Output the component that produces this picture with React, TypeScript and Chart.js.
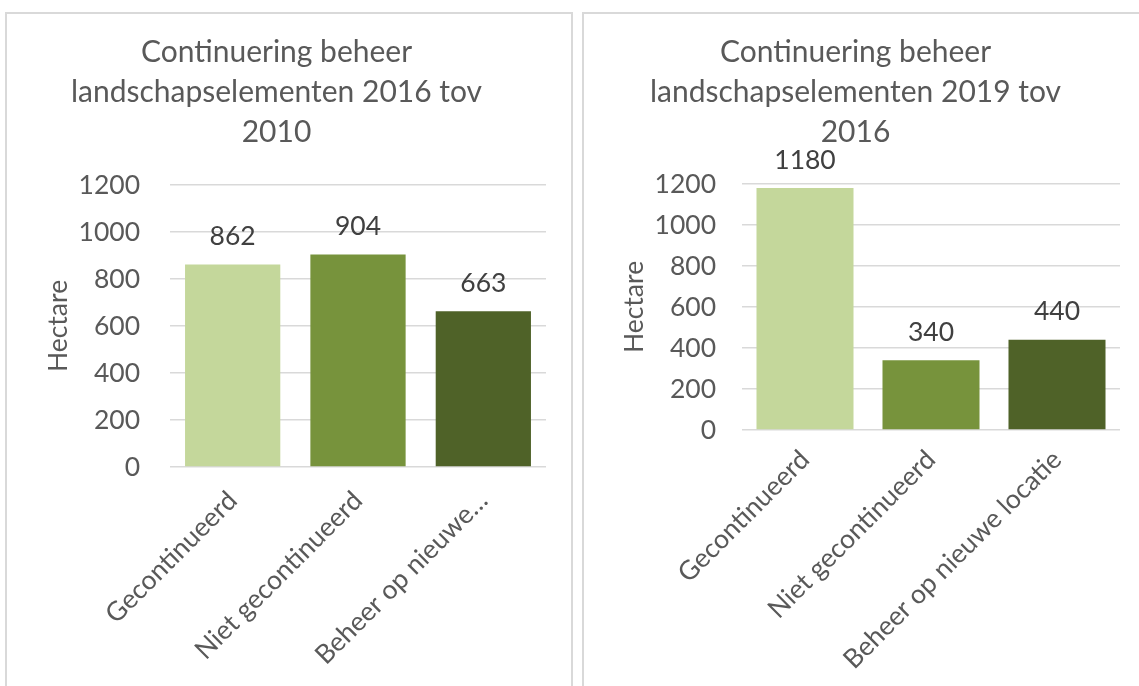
import React, { useEffect, useRef } from "react";
import { Chart, registerables } from "chart.js";

Chart.register(...registerables);

// ---- data ----
const categories2016 = ["Gecontinueerd", "Niet gecontinueerd", "Beheer op nieuwe…"];
const values2016 = [862, 904, 663];
const categories2019 = ["Gecontinueerd", "Niet gecontinueerd", "Beheer op nieuwe locatie"];
const values2019 = [1180, 340, 440];
const barColors = ["#c4d79b", "#77933c", "#4f6228"];
const yTickValues = [0, 200, 400, 600, 800, 1000, 1200];
const title2016 = ["Continuering beheer", "landschapselementen 2016 tov", "2010"];
const title2019 = ["Continuering beheer", "landschapselementen 2019 tov", "2016"];
const yAxisTitle = "Hectare";

const FONT = "Lato, 'Open Sans', sans-serif";
const TEXT = "#595959";
const GRID = "#d9d9d9";
const LABEL_SIZE = 26.5;

const valueLabels = {
  id: "valueLabels",
  afterDatasetsDraw(chart: any, _args: any, opts: any) {
    const ctx = chart.ctx;
    const meta = chart.getDatasetMeta(0);
    const data = chart.data.datasets[0].data;
    ctx.save();
    ctx.font = `${opts.size}px ${FONT}`;
    ctx.fillStyle = "#404040";
    ctx.textAlign = "center";
    ctx.textBaseline = "middle";
    meta.data.forEach((bar: any, i: number) => {
      ctx.fillText(String(data[i]), bar.x, bar.y - opts.offset);
    });
    ctx.restore();
  },
};

type Geo = {
  w: number;
  h: number;
  padLeft: number;
  padRight: number;
  yWidth: number;
  xHeight: number;
  yTickPad: number;
  xTickPad: number;
  yTitlePad: number;
  titleTop: number;
  titleBottom: number;
  barPct: number;
};

function makeConfig(labels: string[], values: number[], title: string[], g: Geo): any {
  return {
    type: "bar",
    data: {
      labels,
      datasets: [
        {
          data: values,
          backgroundColor: barColors,
          borderWidth: 0,
          categoryPercentage: 1,
          barPercentage: g.barPct,
        },
      ],
    },
    plugins: [valueLabels],
    options: {
      responsive: false,
      animation: false,
      devicePixelRatio: 1,
      layout: { padding: { left: g.padLeft, right: g.padRight, top: 0, bottom: 0 } },
      plugins: {
        legend: { display: false },
        tooltip: { enabled: false },
        title: {
          display: true,
          text: title,
          color: TEXT,
          font: { family: FONT, size: 30, weight: "normal", lineHeight: 1.3333 },
          padding: { top: g.titleTop, bottom: g.titleBottom },
        },
        valueLabels: { offset: 28, size: LABEL_SIZE },
      },
      scales: {
        x: {
          grid: { display: false, drawTicks: false },
          border: { display: false },
          ticks: {
            color: TEXT,
            font: { family: FONT, size: LABEL_SIZE },
            maxRotation: 45,
            minRotation: 45,
            autoSkip: false,
            padding: g.xTickPad,
          },
          afterFit(scale: any) {
            scale.height = g.xHeight;
          },
        },
        y: {
          min: 0,
          max: 1200,
          grid: { color: GRID, lineWidth: 1.5, drawTicks: false },
          border: { display: false },
          ticks: {
            color: TEXT,
            font: { family: FONT, size: LABEL_SIZE },
            padding: g.yTickPad,
            callback: (v: any) => String(v),
          },
          afterBuildTicks(scale: any) {
            scale.ticks = yTickValues.map((v) => ({ value: v }));
          },
          title: {
            display: true,
            text: yAxisTitle,
            color: TEXT,
            font: { family: FONT, size: LABEL_SIZE },
            padding: { top: g.yTitlePad, bottom: 0 },
          },
          afterFit(scale: any) {
            scale.width = g.yWidth;
          },
        },
      },
    },
  };
}

function BarPanel(props: { config: any; w: number; h: number }) {
  const ref = useRef<HTMLCanvasElement | null>(null);
  useEffect(() => {
    if (!ref.current) return;
    const chart = new Chart(ref.current, props.config);
    return () => chart.destroy();
  }, []);
  return <canvas ref={ref} width={props.w} height={props.h} style={{ display: "block" }} />;
}

export default function App() {
  const leftGeo: Geo = {
    w: 564,
    h: 672,
    padLeft: 0,
    padRight: 25,
    yWidth: 163,
    xHeight: 219,
    yTickPad: 30,
    xTickPad: 18,
    yTitlePad: 36,
    titleTop: 18,
    titleBottom: 33,
    barPct: 0.76,
  };
  const rightGeo: Geo = {
    w: 555,
    h: 672,
    padLeft: 7,
    padRight: 19,
    yWidth: 151,
    xHeight: 256,
    yTickPad: 26,
    xTickPad: 14,
    yTitlePad: 28,
    titleTop: 18,
    titleBottom: 32,
    barPct: 0.77,
  };
  const leftCfg = makeConfig(categories2016, values2016, title2016, leftGeo);
  const rightCfg = makeConfig(categories2019, values2019, title2019, rightGeo);

  const panelBorder = "2px solid #d9d9d9";
  return (
    <div style={{ position: "absolute", left: 0, top: 0, width: 1139, height: 686, overflow: "hidden", background: "#fff" }}>
      <div
        style={{
          position: "absolute",
          left: 5,
          top: 12,
          width: 564,
          height: 674,
          borderLeft: panelBorder,
          borderRight: panelBorder,
          borderTop: panelBorder,
        }}
      >
        <BarPanel config={leftCfg} w={leftGeo.w} h={leftGeo.h} />
      </div>
      <div
        style={{
          position: "absolute",
          left: 582,
          top: 12,
          width: 570,
          height: 674,
          borderLeft: panelBorder,
          borderTop: panelBorder,
        }}
      >
        <BarPanel config={rightCfg} w={rightGeo.w} h={rightGeo.h} />
      </div>
    </div>
  );
}
